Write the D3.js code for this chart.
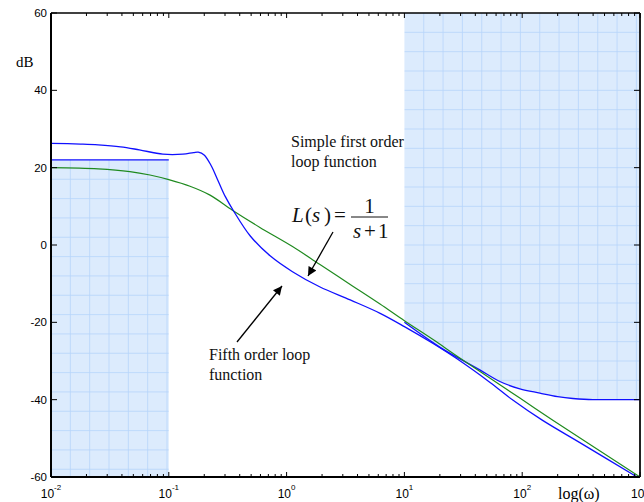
<!DOCTYPE html>
<html>
<head>
<meta charset="utf-8">
<script src="https://cdn.jsdelivr.net/npm/d3@7.9.0/dist/d3.min.js"></script>
<style>
  body { margin: 0; background: #fff; }
  svg { display: block; }
</style>
</head>
<body>
<svg id="chart" width="644" height="502"></svg>
<script>
// --- data (x values are log10 of omega) ---
const xTickExps = [-2, -1, 0, 1, 2, 3];
const yTicks = [-60, -40, -20, 0, 20, 40, 60];

// simple first order loop (green)
const firstLogW = [-2, -1.6, -1.33, -1.16, -1.0, -0.82, -0.65, -0.46, -0.23, 0.05, 0.28, 0.54, 0.79, 1.0, 1.24, 1.47, 1.98, 2.26, 3];
const firstDb   = [20, 19.7, 19.0, 18.1, 16.9, 15.2, 12.9, 9.0, 4.6, -0.4, -5.0, -10.2, -15.2, -19.6, -24.4, -29.2, -39.6, -45.3, -60];

// fifth order loop (blue)
const fifthLogW = [-2, -1.75, -1.6, -1.41, -1.25, -1.05, -0.88, -0.79, -0.75, -0.70, -0.64, -0.58, -0.52, -0.45, -0.31, -0.14, 0.05, 0.28, 0.54, 0.79, 1.0, 1.24, 1.44, 1.73, 1.92, 2.17, 2.5, 2.975];
const fifthDb   = [26.3, 26.1, 25.9, 25.4, 24.6, 23.5, 23.5, 23.9, 24.0, 23.3, 20.5, 16.5, 12.5, 8.8, 2.4, -2.8, -6.9, -10.8, -14.2, -17.6, -21.1, -25.4, -29.3, -35.6, -40.1, -45.3, -51.3, -60];

// low frequency bound (left shaded block)
const lowBoundLogW = [-2, -1];
const lowBoundDb = [22, 22];

// high frequency bound (lower edge of right shaded block)
const highBoundLogW = [1.0, 1.3, 1.64, 1.81, 1.98, 2.15, 2.3, 2.43, 2.6, 3];
const highBoundDb   = [-20, -26.4, -32.3, -35.3, -37.2, -38.3, -39.2, -39.7, -40, -40];

// --- setup ---
const svg = d3.select('#chart');
const x = d3.scaleLog().domain([1e-2, 1e3]).range([51, 640]);
const y = d3.scaleLinear().domain([-60, 60]).range([477, 13]);

const pts = (lw, db) => lw.map((v, i) => [Math.pow(10, v), db[i]]);

const blue = '#1010ff';
const green = '#1f8a1f';
const shade = '#dcebfd';
const gridColor = '#b6d4fa';
const smooth = d3.curveCatmullRom.alpha(0.5);

// shaded regions
const lowArea = d3.area().x(d => x(d[0])).y0(y(-60)).y1(d => y(d[1]));
const highArea = d3.area().x(d => x(d[0])).y0(y(60)).y1(d => y(d[1])).curve(d3.curveMonotoneX);

const defs = svg.append('defs');
defs.append('clipPath').attr('id', 'clipLow')
  .append('path').attr('d', lowArea(pts(lowBoundLogW, lowBoundDb)));
defs.append('clipPath').attr('id', 'clipHigh')
  .append('path').attr('d', highArea(pts(highBoundLogW, highBoundDb)));

svg.append('path').attr('d', lowArea(pts(lowBoundLogW, lowBoundDb))).attr('fill', shade);
svg.append('path').attr('d', highArea(pts(highBoundLogW, highBoundDb))).attr('fill', shade);

// graph paper grid, 5 dB squares anchored at each block's top left corner
const step = y(0) - y(5);
function paper(clipId, x0, y0, x1, y1) {
  const g = svg.append('g').attr('clip-path', `url(#${clipId})`)
    .attr('stroke', gridColor).attr('stroke-width', 0.8);
  for (let xx = x0 + step; xx < x1; xx += step) {
    g.append('line').attr('x1', xx).attr('x2', xx).attr('y1', y0).attr('y2', y1);
  }
  for (let yy = y0 + step; yy < y1; yy += step) {
    g.append('line').attr('x1', x0).attr('x2', x1).attr('y1', yy).attr('y2', yy);
  }
}
paper('clipLow', x(1e-2), y(lowBoundDb[0]), x(1e-1), y(-60));
paper('clipHigh', x(10), y(60), x(1e3), y(-60));

// curves
const line = d3.line().x(d => x(d[0])).y(d => y(d[1]));
svg.append('path').attr('d', line(pts(lowBoundLogW, lowBoundDb)))
  .attr('fill', 'none').attr('stroke', blue).attr('stroke-width', 1.3);
svg.append('path').attr('d', line.curve(d3.curveMonotoneX)(pts(highBoundLogW, highBoundDb)))
  .attr('fill', 'none').attr('stroke', blue).attr('stroke-width', 1.3);
svg.append('path').attr('d', line.curve(smooth)(pts(firstLogW, firstDb)))
  .attr('fill', 'none').attr('stroke', green).attr('stroke-width', 1.2);
svg.append('path').attr('d', line.curve(smooth)(pts(fifthLogW, fifthDb)))
  .attr('fill', 'none').attr('stroke', blue).attr('stroke-width', 1.3);

// axes box
const [L, R] = x.range();
const [B, T] = y.range();
svg.append('line').attr('x1', L).attr('x2', L).attr('y1', T).attr('y2', B).attr('stroke', '#000').attr('stroke-width', 2);
svg.append('line').attr('x1', L).attr('x2', R).attr('y1', B).attr('y2', B).attr('stroke', '#000').attr('stroke-width', 2);
svg.append('line').attr('x1', L).attr('x2', R).attr('y1', T).attr('y2', T).attr('stroke', '#000').attr('stroke-width', 1.5);
svg.append('line').attr('x1', R).attr('x2', R).attr('y1', T).attr('y2', B).attr('stroke', '#222').attr('stroke-width', 2);

// x ticks (log minor + major), inward on bottom and top
const ticks = svg.append('g').attr('stroke', '#000').attr('stroke-width', 1);
xTickExps.forEach((e, i) => {
  for (let m = 1; m <= 9; m++) {
    if (i === xTickExps.length - 1 && m > 1) break;
    const xx = x(m * Math.pow(10, e));
    const len = m === 1 ? 5 : 3;
    ticks.append('line').attr('x1', xx).attr('x2', xx).attr('y1', B).attr('y2', B - len);
    ticks.append('line').attr('x1', xx).attr('x2', xx).attr('y1', T).attr('y2', T + len);
  }
});
yTicks.forEach(v => {
  ticks.append('line').attr('x1', L).attr('x2', L + 6).attr('y1', y(v)).attr('y2', y(v));
  ticks.append('line').attr('x1', R).attr('x2', R - 6).attr('y1', y(v)).attr('y2', y(v));
});

// tick labels
const sans = 'Liberation Sans, Arial, sans-serif';
const serif = 'Liberation Serif, Times New Roman, serif';
svg.append('g').selectAll('text').data(yTicks).join('text')
  .attr('x', 47).attr('y', d => y(d)).attr('dy', '0.35em')
  .attr('text-anchor', 'end').attr('font-family', sans).attr('font-size', 11.5)
  .text(d => d);

const xl = svg.append('g').selectAll('text').data(xTickExps).join('text')
  .attr('x', d => x(Math.pow(10, d))).attr('y', 498)
  .attr('text-anchor', 'middle').attr('font-family', sans).attr('font-size', 12);
xl.append('tspan').text('10');
xl.append('tspan').attr('dy', -8).attr('font-size', 8).text(d => d);

// axis titles
svg.append('text').attr('x', 16).attr('y', 67).attr('font-family', serif).attr('font-size', 15).text('dB');
svg.append('text').attr('x', 558).attr('y', 499).attr('font-family', serif).attr('font-size', 16).text('log(ω)');

// annotations
const note = (lines, x0, y0) => lines.forEach((t, i) =>
  svg.append('text').attr('x', x0).attr('y', y0 + i * 20)
    .attr('font-family', serif).attr('font-size', 16).attr('fill', '#111').text(t));
note(['Simple first order', 'loop function'], 291, 147);
note(['Fifth order loop', 'function'], 209, 360);

// L(s) = 1/(s+1)
const word = (t, x0, y0, italic, anchor) => svg.append('text')
  .attr('x', x0).attr('y', y0).attr('text-anchor', anchor || 'start')
  .attr('font-family', serif).attr('font-size', 21).attr('fill', '#111')
  .attr('font-style', italic ? 'italic' : 'normal').text(t);
word('L', 292, 222, true);
word('(', 305, 222);
word('s', 312, 222, true);
word(')', 324, 222);
word('=', 334, 222);
word('1', 369.5, 213, false, 'middle');
svg.append('line').attr('x1', 351).attr('x2', 388).attr('y1', 217).attr('y2', 217)
  .attr('stroke', '#111').attr('stroke-width', 1);
word('s', 353, 238, true);
word('+', 364, 238);
word('1', 378, 238);

// arrows
defs.append('marker').attr('id', 'head').attr('viewBox', '0 0 10 10')
  .attr('refX', 10).attr('refY', 5).attr('markerWidth', 11).attr('markerHeight', 9)
  .attr('markerUnits', 'userSpaceOnUse').attr('orient', 'auto')
  .append('path').attr('d', 'M0,0 L10,5 L0,10 Z').attr('fill', '#000');
[[333, 232, 308, 276], [237, 342, 282, 286]].forEach(a => {
  svg.append('line').attr('x1', a[0]).attr('y1', a[1]).attr('x2', a[2]).attr('y2', a[3])
    .attr('stroke', '#000').attr('stroke-width', 1.3).attr('marker-end', 'url(#head)');
});
</script>
</body>
</html>
